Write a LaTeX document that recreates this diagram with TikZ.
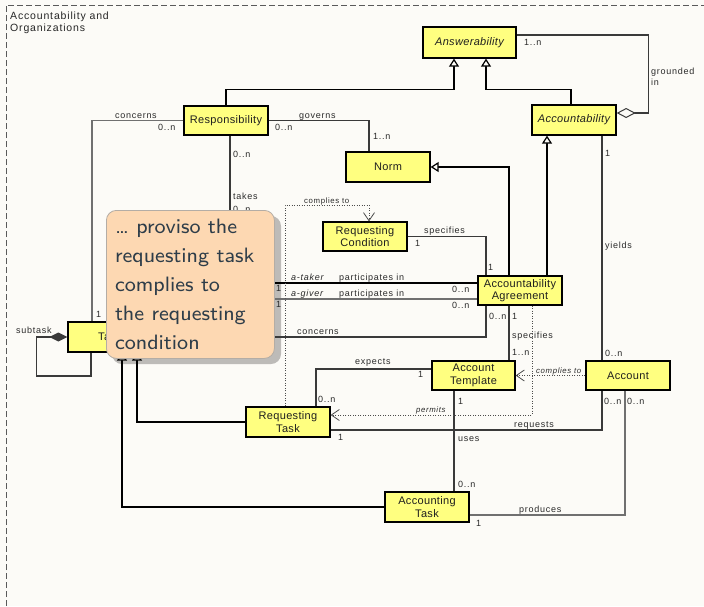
\documentclass[tikz,border=0pt]{standalone}
\usepackage{fontspec}
\usepackage{graphicx}
\newfontfamily\clsfont[LetterSpace=3]{Liberation Sans}
\newfontfamily\lblfont[LetterSpace=8]{Liberation Sans}
\usetikzlibrary{arrows.meta}
\definecolor{bg}{HTML}{FCFBF7}
\definecolor{classfill}{HTML}{FFFF80}
\definecolor{linegray}{HTML}{3A3A3A}
\definecolor{lightline}{HTML}{707070}
\definecolor{notefill}{HTML}{FDD8B2}
\definecolor{noteborder}{HTML}{B4ADA5}
\definecolor{noteshadow}{HTML}{BDBBB8}
\definecolor{notetext}{HTML}{2E3D49}
\definecolor{labeltext}{HTML}{2A2A2A}
\definecolor{framegray}{HTML}{5A5A5A}
\begin{document}
\begin{tikzpicture}[x=1pt,y=-1pt,
  cls/.style={draw=black, line width=1.3pt, fill=classfill, minimum width=84pt,
    minimum height=30pt, inner sep=0pt, align=center, text=black!88,
    font=\clsfont\fontsize{11}{12.5}\selectfont},
  abscls/.style={cls, font=\clsfont\itshape\fontsize{11}{12.5}\selectfont},
  gen/.style={draw=black, line width=1.6pt,
    -{Triangle[open, fill=bg, line width=1.2pt, length=8pt, width=10pt]}},
  assoc/.style={draw=linegray, line width=1.1pt},
  dep/.style={draw=black!70, line width=0.8pt, dash pattern=on 1pt off 1.5pt,
    -{Straight Barb[length=8pt, width=11pt, line width=0.8pt]}},
  lbl/.style={anchor=base west, inner sep=0pt, text=labeltext,
    font=\lblfont\fontsize{9}{10}\selectfont},
  ilbl/.style={lbl, font=\lblfont\itshape\fontsize{9}{10}\selectfont},
  smalllbl/.style={lbl, font=\lblfont\fontsize{7.8}{9}\selectfont},
  ismalllbl/.style={lbl, font=\lblfont\itshape\fontsize{7.8}{9}\selectfont},
  heading/.style={anchor=base west, inner sep=0pt, text=black!85,
    font=\lblfont\fontsize{10.5}{12}\selectfont},
  frame/.style={draw=framegray, line width=1pt, dash pattern=on 6pt off 3pt},
  note/.style={draw=noteborder, line width=0.8pt, fill=notefill,
    rounded corners=10pt, inner sep=0pt, text=notetext,
    minimum width=168pt, minimum height=148pt}]

% canvas and package frame
\path[fill=bg, use as bounding box] (0,0) rectangle (704,606);
\draw[frame] (6,606) -- (6,5) -- (704,5);
\node[heading] (head1) at (10,19) {Accountability and};
\node[heading] (head2) at (10,31) {Organizations};

% shadow of the note, lying under the connectors
\fill[noteshadow, rounded corners=10pt] (112,216) rectangle (281,364);

% classes
\node[abscls, minimum width=93pt, minimum height=31pt] (answer) at (469.5,42.5) {Answerability};
\node[abscls] (accountability) at (574,120) {Accountability};
\node[cls, minimum height=29pt] (resp) at (226,120.5) {Responsibility};
\node[cls] (norm) at (388,167) {Norm};
\node[cls, minimum height=29pt] (reqcond) at (365,236.5) {Requesting\\Condition};
\node[cls, minimum height=29pt] (agree) at (520,290.5) {Accountability\\Agreement};
\node[cls, minimum width=83pt, minimum height=29pt] (templ) at (473.5,375.5) {Account\\Template};
\node[cls, minimum height=29pt] (acct) at (628,375.5) {Account};
\node[cls] (reqtask) at (288,422) {Requesting\\Task};
\node[cls] (acctask) at (427,507) {Accounting\\Task};
\node[cls] (task) at (110,337) {Task};

% generalizations
\draw[gen] (resp.north) -- ++(0,-16) -| ([xshift=-15.5pt]answer.south);
\draw[gen] ([xshift=-3pt]accountability.north) -- ++(0,-15) -| ([xshift=16.5pt]answer.south);
\draw[gen] ([xshift=27pt]agree.north) -- ([xshift=-27pt]accountability.south);
\draw[gen] ([xshift=-11pt]agree.north) |- (norm.east);
\draw[gen] (reqtask.west) -| ([xshift=27pt]task.south);
\draw[gen] (acctask.west) -| ([xshift=12pt]task.south);

% associations
\draw[assoc, -{Diamond[open, fill=bg, line width=1pt, length=19pt, width=10pt]}]
  ([yshift=7.5pt]answer.east) -- ++(132,0) |- ([yshift=7pt]accountability.east);
\draw[assoc, draw=lightline] (resp.west) -| ([xshift=-18pt]task.north);
\draw[assoc] (resp.east) -| ([xshift=-19pt]norm.north);
\draw[assoc] ([xshift=4pt]resp.south) |- ([yshift=-3pt]task.east);
\draw[assoc] (reqcond.east) -| ([xshift=-34pt]agree.north);
\draw[assoc, draw=black] ([xshift=30pt]task.north) |- ([yshift=7.5pt]agree.west);
\draw[assoc, draw=lightline, line width=1.4pt] ([xshift=36pt]task.north) |- ([yshift=-8.5pt]agree.west);
\draw[assoc] ([xshift=-34pt]agree.south) |- (task.east);
\draw[assoc] ([xshift=-11pt]agree.south) -- ([xshift=35.5pt]templ.north);
\draw[assoc] ([yshift=6.5pt]templ.west) -| ([xshift=28pt]reqtask.north);
\draw[assoc] ([xshift=-19.5pt]templ.south) -- ([xshift=27pt]acctask.north);
\draw[assoc] ([yshift=-8pt]reqtask.east) -| ([xshift=-26pt]acct.south);
\draw[assoc] ([xshift=28pt]accountability.south) -- ([xshift=-26pt]acct.north);
\draw[assoc, draw=lightline] ([xshift=-3pt]acct.south) |- ([yshift=-8pt]acctask.east);
\draw[assoc, {Diamond[length=18pt, width=9pt]}-]
  (task.west) -- ++(-31,0) -- ++(0,39) -| ([xshift=-19pt]task.south);

% dependencies
\draw[dep] ([xshift=12pt]agree.south) |- ([yshift=7pt]reqtask.east);
\draw[dep] (acct.west) -- (templ.east);
\draw[dep] ([xshift=-3pt]reqtask.north) -- ++(0,-201) -| ([xshift=4pt]reqcond.north);

% role names and multiplicities
\node[lbl] (l1) at (115,118) {concerns};
\node[lbl] (l2) at (158,130) {0..n};
\node[lbl] (l3) at (299,118) {governs};
\node[lbl] (l4) at (275,130) {0..n};
\node[lbl] (l5) at (373,139) {1..n};
\node[lbl] (l6) at (233,157) {0..n};
\node[lbl] (l7) at (233,199) {takes};
\node[lbl] (l8) at (233,212) {0..n};
\node[lbl] (l9) at (524,45) {1..n};
\node[lbl] (l10) at (651,74) {grounded};
\node[lbl] (l11) at (651,85) {in};
\node[lbl] (l12) at (605,156) {1};
\node[lbl] (l13) at (605,248) {yields};
\node[lbl] (l14) at (605,356) {0..n};
\node[smalllbl] (l15) at (304,203) {complies to};
\node[lbl] (l16) at (424,233) {specifies};
\node[lbl] (l17) at (415,246) {1};
\node[lbl] (l18) at (488,270) {1};
\node[ilbl] (l19) at (291,280) {a-taker};
\node[lbl] (l20) at (339,280) {participates in};
\node[ilbl] (l21) at (291,296) {a-giver};
\node[lbl] (l22) at (339,296) {participates in};
\node[lbl] (l25) at (452,292) {0..n};
\node[lbl] (l26) at (452,308) {0..n};
\node[lbl] (l27) at (297,334) {concerns};
\node[lbl] (l28) at (489,319) {0..n};
\node[lbl] (l29) at (512,319) {1};
\node[lbl] (l30) at (512,338) {specifies};
\node[lbl] (l31) at (512,355) {1..n};
\node[ismalllbl] (l32) at (536,373) {complies to};
\node[lbl] (l33) at (355,364) {expects};
\node[lbl] (l34) at (418,377) {1};
\node[lbl] (l35) at (318,402) {0..n};
\node[lbl] (l36) at (458,404) {1};
\node[ismalllbl] (l37) at (416,412) {permits};
\node[lbl] (l38) at (514,427) {requests};
\node[lbl] (l39) at (604,404) {0..n};
\node[lbl] (l40) at (627,404) {0..n};
\node[lbl] (l41) at (338,440) {1};
\node[lbl] (l42) at (458,441) {uses};
\node[lbl] (l43) at (458,487) {0..n};
\node[lbl] (l44) at (519,512) {produces};
\node[lbl] (l45) at (476,526) {1};
\node[lbl] (l46) at (16,333) {subtask};
\node[lbl] (l47) at (96,317) {1};

% the note on top
\node[note, anchor=north west] (proviso) at (106,210)
  {\scalebox{2.6}{\parbox{58pt}{\raggedright\sffamily\fontsize{8}{11.15}\selectfont
   \ldots\ proviso the\\ requesting task\\ complies to\\ the requesting\\ condition}}};
\node[lbl] (l23) at (276,291) {1};
\node[lbl] (l24) at (276,307) {1};
\end{tikzpicture}
\end{document}
